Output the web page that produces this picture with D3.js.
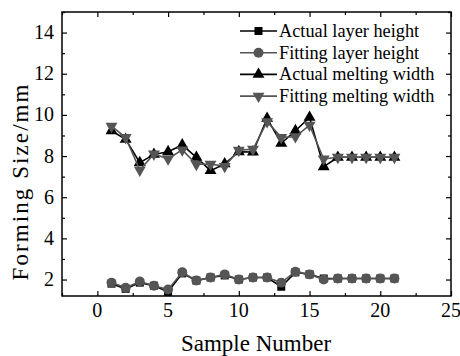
<!DOCTYPE html>
<html><head><meta charset="utf-8">
<script src="https://cdn.jsdelivr.net/npm/d3@7"></script>
</head><body style="margin:0">
<script>
const samples = [1,2,3,4,5,6,7,8,9,10,11,12,13,14,15,16,17,18,19,20,21];
const actualHeight  = [1.8,1.55,1.85,1.7,1.4,2.3,1.95,2.1,2.2,2.0,2.1,2.1,1.65,2.35,2.25,2.05,2.05,2.05,2.05,2.05,2.05];
const fittingHeight = [1.85,1.6,1.9,1.7,1.52,2.35,1.95,2.1,2.25,2.0,2.1,2.1,1.85,2.38,2.25,2.0,2.05,2.05,2.05,2.05,2.05];
const actualWidth   = [9.23,8.81,7.68,8.08,8.21,8.54,7.94,7.29,7.62,8.21,8.2,9.83,8.62,9.23,9.88,7.48,7.94,7.94,7.94,7.94,7.94];
const fittingWidth  = [9.45,8.9,7.32,8.1,7.86,8.3,7.6,7.61,7.5,8.29,8.33,9.67,8.91,8.94,9.5,7.86,7.94,7.94,7.94,7.94,7.94];
const seriesNames = ["Actual layer height","Fitting layer height","Actual melting width","Fitting melting width"];
const xTicks = [0,5,10,15,20,25];
const yTicks = [2,4,6,8,10,12,14];

const W=460,H=356;
const m={l:62,r:451,t:12,b:296};
const F='"Liberation Serif"';
const svg=d3.select("body").append("svg").attr("width",W).attr("height",H);
const x=d3.scaleLinear().domain([-2.5,25]).range([m.l,m.r]);
const y=d3.scaleLinear().domain([1.2,15]).range([m.b,m.t]);

const black="#000", gray="#555";
const series=[
  {name:seriesNames[0],vals:actualHeight,color:black,shape:d3.symbolSquare,size:64,rot:0},
  {name:seriesNames[1],vals:fittingHeight,color:gray,shape:d3.symbolCircle,size:78,rot:0},
  {name:seriesNames[2],vals:actualWidth,color:black,shape:d3.symbolTriangle,size:62,rot:0},
  {name:seriesNames[3],vals:fittingWidth,color:gray,shape:d3.symbolTriangle,size:62,rot:180}
];

function cleanAxis(g){g.select(".domain").remove();g.selectAll("text").remove();g.attr("font-family",null).attr("font-size",null);g.selectAll("line").attr("stroke","#000").attr("stroke-width",1.2);}
const xMinor=d3.range(-2.5,25.01,2.5).filter(v=>!xTicks.includes(v));
const yMinor=d3.range(1,15.01,1).filter(v=>v>=1.2&&!yTicks.includes(v));
svg.append("g").attr("transform",`translate(0,${m.b})`).call(d3.axisTop(x).tickValues(xTicks).tickSize(5)).call(cleanAxis);
svg.append("g").attr("transform",`translate(0,${m.b})`).call(d3.axisTop(x).tickValues(xMinor).tickSize(3)).call(cleanAxis);
svg.append("g").attr("transform",`translate(0,${m.t})`).call(d3.axisBottom(x).tickValues(xTicks).tickSize(5)).call(cleanAxis);
svg.append("g").attr("transform",`translate(0,${m.t})`).call(d3.axisBottom(x).tickValues(xMinor).tickSize(3)).call(cleanAxis);
svg.append("g").attr("transform",`translate(${m.l},0)`).call(d3.axisRight(y).tickValues(yTicks).tickSize(5)).call(cleanAxis);
svg.append("g").attr("transform",`translate(${m.l},0)`).call(d3.axisRight(y).tickValues(yMinor).tickSize(3)).call(cleanAxis);
svg.append("g").attr("transform",`translate(${m.r},0)`).call(d3.axisLeft(y).tickValues(yTicks).tickSize(5)).call(cleanAxis);
svg.append("g").attr("transform",`translate(${m.r},0)`).call(d3.axisLeft(y).tickValues(yMinor).tickSize(3)).call(cleanAxis);

svg.append("rect").attr("x",m.l).attr("y",m.t).attr("width",m.r-m.l).attr("height",m.b-m.t)
  .attr("fill","none").attr("stroke","#000").attr("stroke-width",1.5);

const line=d3.line().x((d,i)=>x(samples[i])).y(d=>y(d));
series.forEach(s=>{
  svg.append("path").datum(s.vals).attr("d",line).attr("fill","none")
    .attr("stroke",s.color).attr("stroke-width",1.6);
  svg.append("g").selectAll("path").data(s.vals).join("path")
    .attr("d",d3.symbol().type(s.shape).size(s.size))
    .attr("transform",(d,i)=>`translate(${x(samples[i])},${y(d)}) rotate(${s.rot})`)
    .attr("fill",s.color);
});

const lg=svg.append("g");
series.forEach((s,i)=>{
  const yy=31+i*21.7;
  lg.append("line").attr("x1",240).attr("x2",277).attr("y1",yy).attr("y2",yy)
    .attr("stroke",s.color).attr("stroke-width",1.6);
  lg.append("path").attr("d",d3.symbol().type(s.shape).size(s.size))
    .attr("transform",`translate(258.5,${yy}) rotate(${s.rot})`).attr("fill",s.color);
  lg.append("text").attr("x",279).attr("y",yy).attr("dy","0.33em")
    .style("font-family",F).style("font-size","18.3px").attr("fill","#000").text(s.name);
});

// labels: same construction as legend text, start-anchored, centred by measurement
function label(g,cx,cy,t,size,align,dy){
  const e=g.append("text").attr("x",cx).attr("y",cy).attr("dy",dy)
    .style("font-family",F).style("font-size",size+"px").attr("fill","#000").text(t);
  const w=e.node().getComputedTextLength();
  const shift=align==="middle"?w/2:align==="end"?w:0;
  e.attr("x",cx-shift);
  return e;
}
const lbl=svg.append("g");
xTicks.forEach(v=>label(lbl,x(v),m.b+7,d3.format("d")(v),20,"middle","0.71em"));
yTicks.forEach(v=>label(lbl,m.l-8,y(v),d3.format("d")(v),20,"end","0.33em"));
label(lbl,256,351,"Sample Number",23,"middle","0");
const yt=svg.append("g").attr("transform","translate(28,182.5) rotate(-90)");
label(yt,0,0,"Forming Size/mm",23,"middle","0").attr("textLength",196).attr("lengthAdjust","spacing").attr("x",-98);
</script>
</body></html>
